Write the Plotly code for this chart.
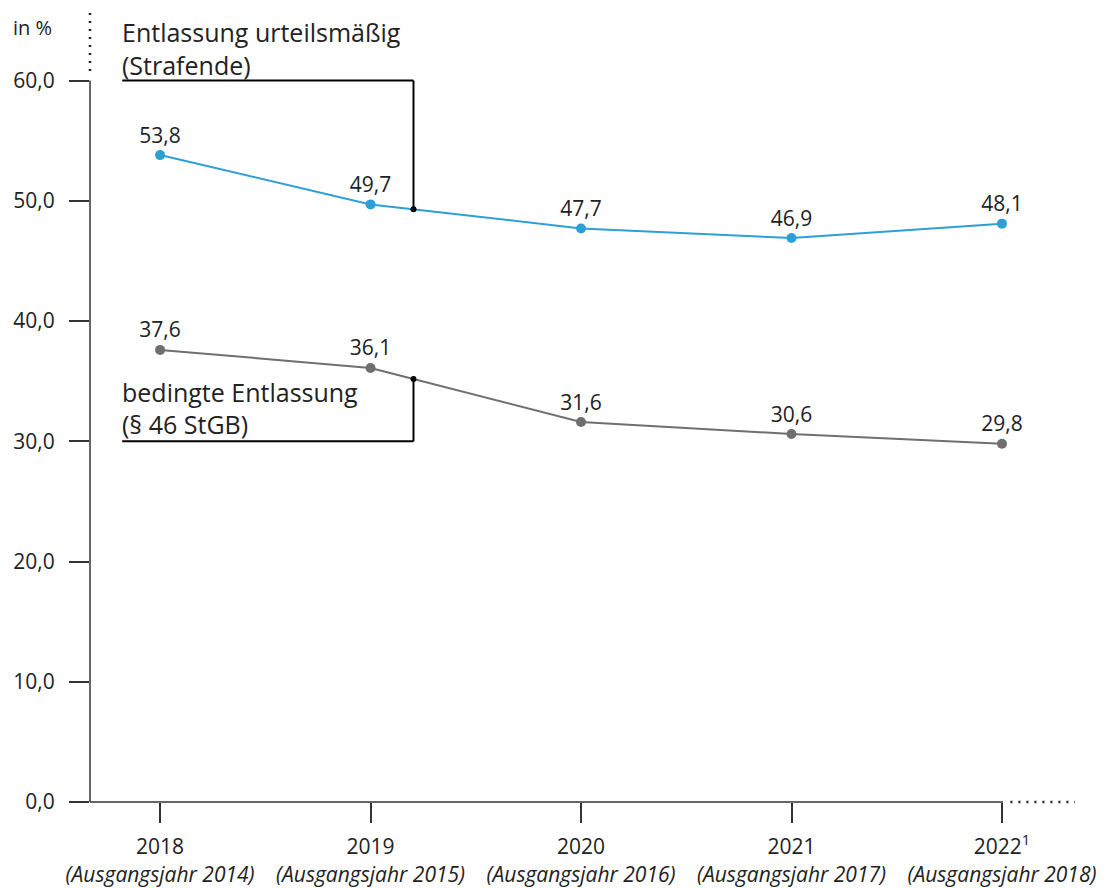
import plotly.graph_objects as go

years = ["2018", "2019", "2020", "2021", "2022<sup>1</sup>"]
base_years = ["(Ausgangsjahr 2014)", "(Ausgangsjahr 2015)", "(Ausgangsjahr 2016)",
              "(Ausgangsjahr 2017)", "(Ausgangsjahr 2018)"]
strafende = [53.8, 49.7, 47.7, 46.9, 48.1]
bedingt = [37.6, 36.1, 31.6, 30.6, 29.8]
y_ticks = [0, 10, 20, 30, 40, 50, 60]

BLUE = "#2E9FD6"
GREY = "#6F6F6F"
TXT = "#222222"
FONT = "Open Sans"
FS = 21

xs = list(range(len(years)))
fmt = lambda v: f"{v:.1f}".replace(".", ",")

fig = go.Figure()
for vals, col in [(strafende, BLUE), (bedingt, GREY)]:
    fig.add_trace(go.Scatter(
        x=xs, y=vals, mode="lines+markers+text",
        line=dict(color=col, width=2), marker=dict(color=col, size=10),
        text=[fmt(v) for v in vals], textposition="top center",
        textfont=dict(family=FONT, size=FS, color=TXT),
        cliponaxis=False, showlegend=False, hoverinfo="skip"))

# callout connectors
cx = 1.204
yb = strafende[1] + (strafende[2] - strafende[1]) * 0.204
yg = bedingt[1] + (bedingt[2] - bedingt[1]) * 0.204
xl = -0.18
for y0, y1 in [(yb, 60), (yg, 30)]:
    fig.add_shape(type="line", x0=cx, x1=cx, y0=y0, y1=y1, line=dict(color="black", width=2))
    fig.add_shape(type="line", x0=xl, x1=cx, y0=y1, y1=y1, line=dict(color="black", width=2))
fig.add_trace(go.Scatter(x=[cx, cx], y=[yb, yg], mode="markers",
                         marker=dict(color="black", size=6), showlegend=False, hoverinfo="skip"))

# axes lines (solid part + dotted continuation)
x_min, x_max = -0.333, 4.347
y_max = 65.7
fx = lambda v: (v - x_min) / (x_max - x_min)
fy = lambda v: v / y_max
AX = dict(color="#333", width=1.5)
DOT = dict(color="#222", width=2.5, dash="2px,6px")
fig.add_shape(type="line", xref="paper", yref="paper", x0=0, x1=fx(4.005), y0=0, y1=0, line=AX)
fig.add_shape(type="line", xref="paper", yref="paper", x0=fx(4.04), x1=1, y0=0, y1=0, line=DOT)
fig.add_shape(type="line", xref="paper", yref="paper", x0=0, x1=0, y0=0, y1=fy(60), line=AX)
fig.add_shape(type="line", xref="paper", yref="paper", x0=0, x1=0, y0=fy(60.8), y1=1, line=DOT)

for txt, y in [("Entlassung urteilsmäßig", 64.06), ("(Strafende)", 61.3),
               ("bedingte Entlassung", 34.1), ("(§ 46 StGB)", 31.45)]:
    fig.add_annotation(x=xl, y=y, text=txt, showarrow=False, xanchor="left", yanchor="middle",
                       font=dict(family=FONT, size=25, color=TXT), xshift=-2)

fig.add_annotation(xref="paper", yref="paper", x=-0.08, y=1.0, text="in %", showarrow=False,
                   xanchor="left", yanchor="top", font=dict(family=FONT, size=FS - 1, color=TXT))

fig.update_layout(
    width=1111, height=888, margin=dict(l=90, r=36, t=12, b=86),
    paper_bgcolor="white", plot_bgcolor="white",
    font=dict(family=FONT, size=FS, color=TXT),
    xaxis=dict(range=[x_min, x_max], tickvals=xs, automargin=False,
               ticktext=[f"{a}<br><i>{b}</i>" for a, b in zip(years, base_years)],
               ticks="outside", ticklen=20, tickcolor="#333", tickwidth=1.5,
               showgrid=False, zeroline=False, showline=False, ticklabelstandoff=6,
               tickfont=dict(family=FONT, size=FS, color=TXT)),
    yaxis=dict(range=[0, y_max], tickvals=y_ticks, ticktext=[fmt(v) for v in y_ticks],
               ticks="outside", ticklen=20, tickcolor="#333", tickwidth=1.5, automargin=False,
               showgrid=False, zeroline=False, showline=False, ticklabelstandoff=10,
               tickfont=dict(family=FONT, size=FS, color=TXT)),
)
fig.write_html("out.html")
